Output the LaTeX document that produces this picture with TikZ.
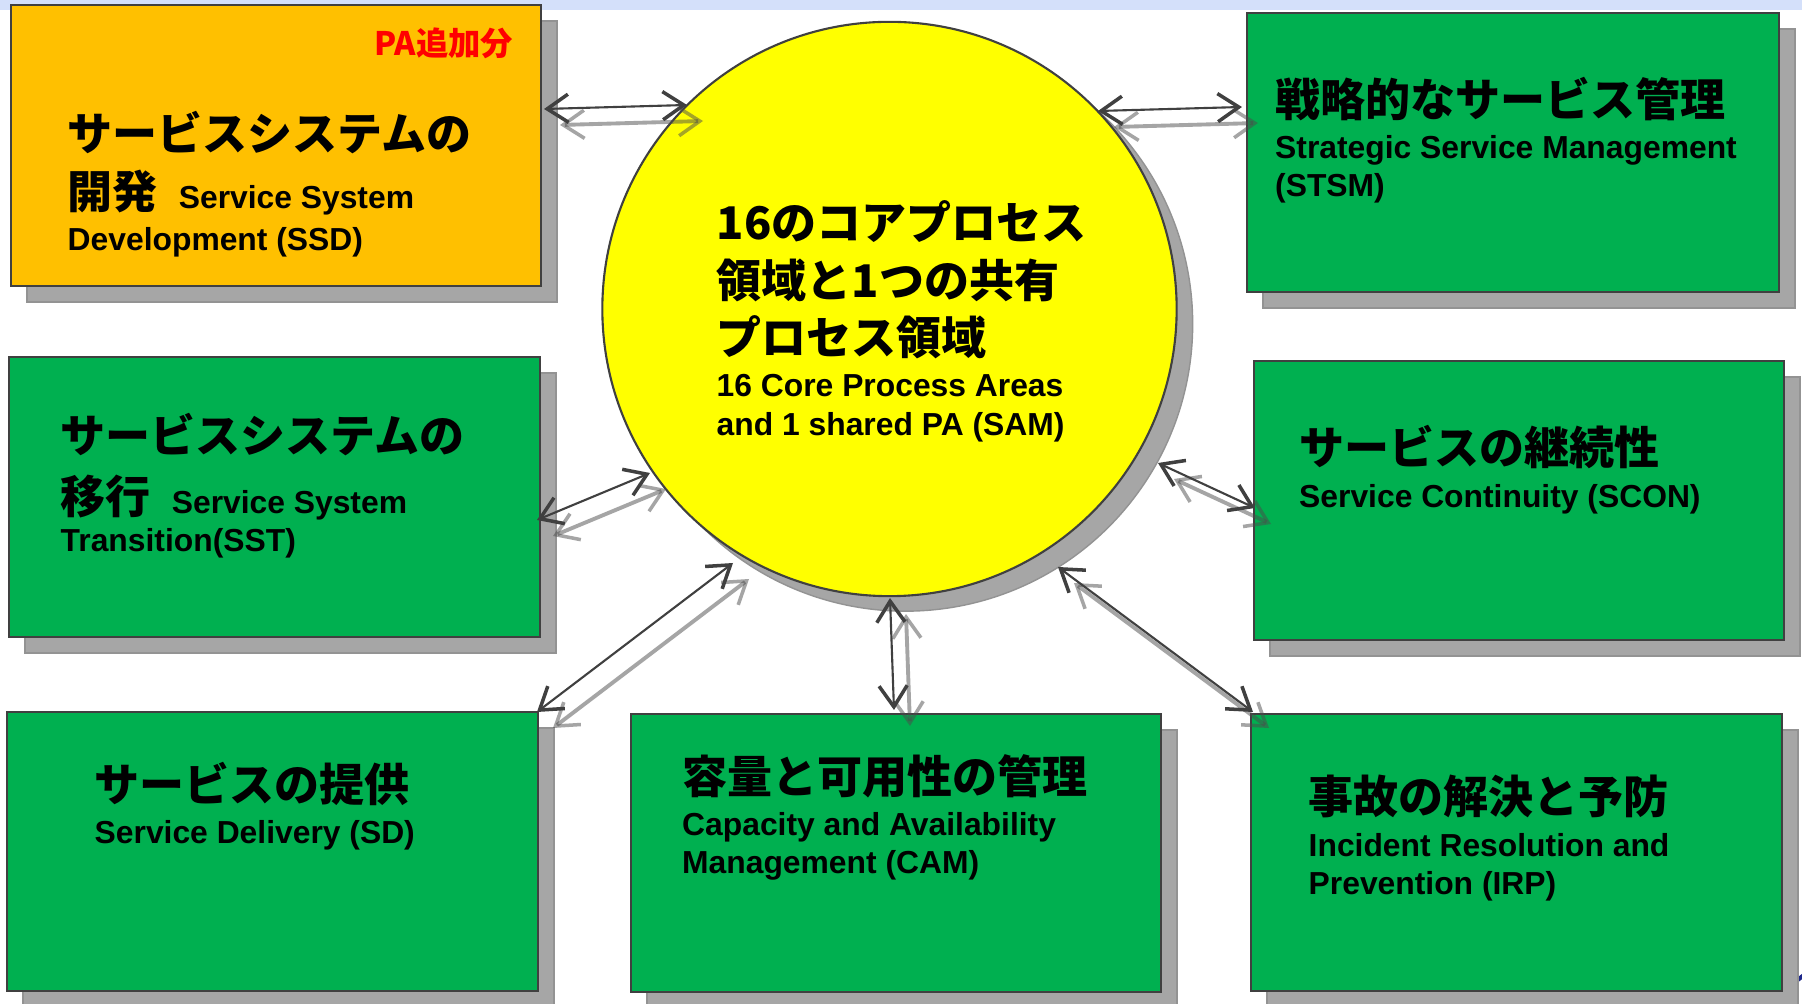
\documentclass[tikz,border=0pt]{standalone}
\usepackage{fontspec}
\setmainfont{Liberation Sans}
\newfontfamily\jpf{Noto Sans CJK JP}
\usetikzlibrary{arrows.meta,shadows}
\definecolor{boxorange}{HTML}{FFC000}
\definecolor{boxgreen}{HTML}{00B050}
\definecolor{coreyellow}{HTML}{FFFF00}
\definecolor{edgegray}{HTML}{404040}
\definecolor{shadegray}{HTML}{A6A6A6}
\definecolor{stripblue}{HTML}{D4E0FA}
\newcommand\enpart{\normalfont\bfseries\fontsize{9.05}{11}\selectfont}
\tikzset{
  pabox/.style={draw=edgegray, line width=0.55pt, rectangle, inner sep=0pt,
    drop shadow={shadow xshift=0.16cm, shadow yshift=-0.16cm, fill=shadegray,
      draw=gray!85, line width=0.4pt, opacity=1}},
  corecircle/.style={draw=edgegray, line width=0.6pt, circle, fill=coreyellow,
    inner sep=0pt, minimum size=5.74cm,
    drop shadow={shadow xshift=0.16cm, shadow yshift=-0.15cm, fill=shadegray,
      draw=gray!85, line width=0.4pt, opacity=1}},
  jt/.style={font=\jpf\bfseries\fontsize{12.8}{15}\selectfont, anchor=base west, inner sep=0pt},
  et/.style={font=\enpart, anchor=base west, inner sep=0pt},
  redt/.style={font=\jpf\bfseries\fontsize{9.2}{11}\selectfont, text=red, anchor=base east, inner sep=0pt},
  barb/.style={>={Straight Barb[length=6pt,width=8pt,line width=1pt]}, <->},
  link/.style={barb, draw=edgegray, line width=0.6pt},
  linkshade/.style={barb, draw=black!70, draw opacity=0.5, line width=1.1pt,
    transform canvas={xshift=0.16cm, yshift=-0.16cm}}
}
\begin{document}
\begin{tikzpicture}[x=0.01cm, y=-0.01cm]
\useasboundingbox (0,0) rectangle (1802,1004);
\path[clip] (0,0) rectangle (1802,1004);
\fill[white] (0,0) rectangle (1802,1004);
\fill[stripblue] (0,0) rectangle (1802,10);

% logo fragment bottom right
\draw[line width=1.2pt, color={rgb,255:red,30;green,40;blue,140}] (1764,1006) -- (1804,975);
\draw[line width=1.2pt, color={rgb,255:red,40;green,130;blue,110}] (1752,992) -- (1785,1006);

% boxes
\node[pabox, fill=boxorange, minimum width=5.30cm, minimum height=2.81cm] (ssd) at (276,145.5) {};
\node[pabox, fill=boxgreen, minimum width=5.32cm, minimum height=2.79cm] (stsm) at (1513,152.5) {};
\node[pabox, fill=boxgreen, minimum width=5.31cm, minimum height=2.80cm] (sst) at (274.5,497) {};
\node[pabox, fill=boxgreen, minimum width=5.30cm, minimum height=2.79cm] (scon) at (1519,500.5) {};
\node[pabox, fill=boxgreen, minimum width=5.31cm, minimum height=2.79cm] (sd) at (272.5,851.5) {};
\node[pabox, fill=boxgreen, minimum width=5.30cm, minimum height=2.78cm] (cam) at (896,853) {};
\node[pabox, fill=boxgreen, minimum width=5.31cm, minimum height=2.77cm] (irp) at (1516.5,852.5) {};

% core circle
\node[corecircle] (core) at (889.5,309) {};

% texts SSD
\node[redt] (ssdr) at (514,56) {PA追加分};
\node[jt] (ssd1) at (67,151) {サービスシステムの};
\node[jt] (ssd2) at (67,209) {開発\hspace{6pt}{\enpart Service System}};
\node[et] (ssd3) at (67,251) {Development (SSD)};

% SST
\node[jt] (sst1) at (60,453) {サービスシステムの};
\node[jt] (sst2) at (60,514) {移行\hspace{6pt}{\enpart Service System}};
\node[et] (sst3) at (60,552) {Transition(SST)};

% SD
\node[jt] (sd1) at (94,802) {サービスの提供};
\node[et] (sd2) at (94,844) {Service Delivery (SD)};

% CAM
\node[jt] (cam1) at (681.5,794) {容量と可用性の管理};
\node[et] (cam2) at (681.5,836) {Capacity and Availability};
\node[et] (cam3) at (681.5,874) {Management (CAM)};

% IRP
\node[jt] (irp1) at (1308,814) {事故の解決と予防};
\node[et] (irp2) at (1308,857) {Incident Resolution and};
\node[et] (irp3) at (1308,895) {Prevention (IRP)};

% STSM
\node[jt] (stsm1) at (1274.5,117) {戦略的なサービス管理};
\node[et] (stsm2) at (1274.5,159) {Strategic Service Management};
\node[et] (stsm3) at (1274.5,197) {(STSM)};

% SCON
\node[jt] (scon1) at (1298.5,465) {サービスの継続性};
\node[et] (scon2) at (1298.5,508) {Service Continuity (SCON)};

% core text
\node[jt] (core1) at (716,240) {16のコアプロセス};
\node[jt] (core2) at (716,298) {領域と1つの共有};
\node[jt] (core3) at (716,355) {プロセス領域};
\node[et] (core4) at (716,397) {16 Core Process Areas};
\node[et] (core5) at (716,436) {and 1 shared PA (SAM)};

% connector end points
\coordinate (p1a) at (544,109);  \coordinate (p1b) at (687,105);
\coordinate (p2a) at (1098,111); \coordinate (p2b) at (1242,107);
\coordinate (p3a) at (537,520);  \coordinate (p3b) at (650,473);
\coordinate (p4a) at (1158,463); \coordinate (p4b) at (1255,508);
\coordinate (p5a) at (537,712);  \coordinate (p5b) at (733,563);
\coordinate (p6a) at (890,598);  \coordinate (p6b) at (894,710);
\coordinate (p7a) at (1058,567); \coordinate (p7b) at (1253,712);

\foreach \i in {1,...,7} {
  \draw[linkshade] (p\i a) -- (p\i b);
}
\foreach \i in {1,...,7} {
  \draw[link] (p\i a) -- (p\i b);
}
\end{tikzpicture}
\end{document}
